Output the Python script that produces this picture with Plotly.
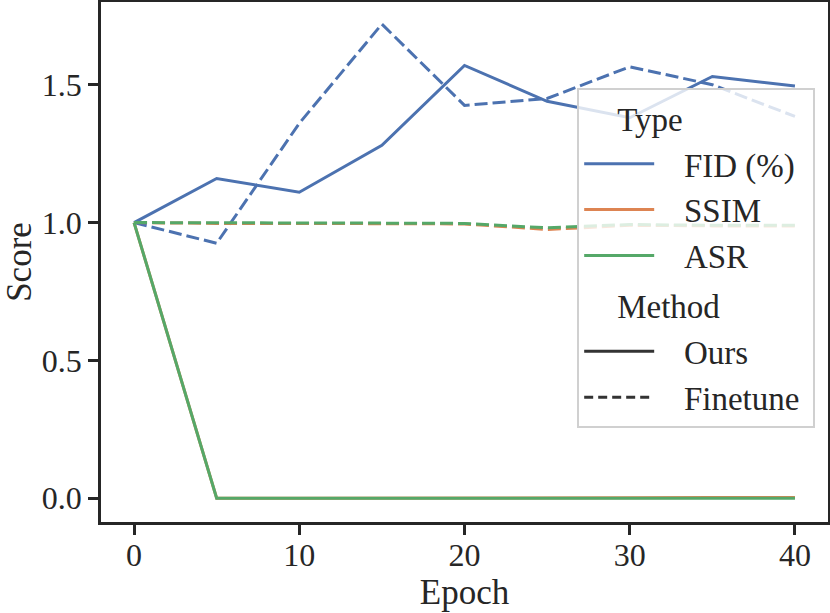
import plotly.graph_objects as go

epochs = [0, 5, 10, 15, 20, 25, 30, 35, 40]

fid_ours = [1.0, 1.16, 1.11, 1.28, 1.57, 1.44, 1.38, 1.53, 1.495]
fid_finetune = [1.0, 0.925, 1.36, 1.72, 1.425, 1.45, 1.565, 1.50, 1.385]
ssim_ours = [1.0, 0.0, 0.0, 0.0, 0.0, 0.0, 0.002, 0.003, 0.003]
ssim_finetune = [1.0, 0.997, 0.997, 0.995, 0.995, 0.975, 0.99, 0.988, 0.988]
asr_ours = [1.0, 0.0, 0.0, 0.0, 0.0, 0.0, 0.0, 0.0, 0.0]
asr_finetune = [1.0, 1.0, 1.0, 0.998, 0.997, 0.981, 0.993, 0.99, 0.99]

types = ["FID (%)", "SSIM", "ASR"]
methods = ["Ours", "Finetune"]

BLUE = "#4c72b0"
ORANGE = "#dd8452"
GREEN = "#55a868"
INK = "#262626"
DASH = "13px,5px"
FONT = "Liberation Serif"
NB = "\u00a0"
PAD = NB * 3

series = [
    (fid_ours, BLUE, "solid"),
    (fid_finetune, BLUE, DASH),
    (ssim_ours, ORANGE, "solid"),
    (ssim_finetune, ORANGE, DASH),
    (asr_ours, GREEN, "solid"),
    (asr_finetune, GREEN, DASH),
]

fig = go.Figure()

for vals, col, dash in series:
    fig.add_trace(go.Scatter(
        x=epochs, y=vals, mode="lines",
        line=dict(color=col, width=3, dash=dash),
        showlegend=False, hoverinfo="skip",
    ))

# legend entries, seaborn style (hue block then style block)
for name, col in zip(types, [BLUE, ORANGE, GREEN]):
    fig.add_trace(go.Scatter(
        x=[None], y=[None], mode="lines", name=PAD + name + NB,
        line=dict(color=col, width=3),
        legendgroup="type", legendgrouptitle_text=PAD + NB + "Type",
    ))
for name, dash in zip(methods, ["solid", "9px,5px"]):
    fig.add_trace(go.Scatter(
        x=[None], y=[None], mode="lines", name=PAD + name + NB,
        line=dict(color="#333333", width=3, dash=dash),
        legendgroup="method", legendgrouptitle_text=PAD + NB + "Method",
    ))

axis_common = dict(
    showline=True, linecolor=INK, linewidth=2.5, mirror=True,
    ticks="outside", ticklen=10, tickwidth=2.5, tickcolor=INK,
    showgrid=False, zeroline=False, automargin=False,
    tickfont=dict(family=FONT, size=32, color=INK),
)

fig.update_xaxes(
    range=[-2, 42], tickvals=[0, 10, 20, 30, 40],
    ticklabelstandoff=-7,
    title=dict(text="Epoch", font=dict(family=FONT, size=35, color=INK), standoff=2),
    **axis_common,
)
fig.update_yaxes(
    range=[-0.086, 1.80], tickvals=[0.0, 0.5, 1.0, 1.5], tickformat=".1f",
    title=dict(text="Score", font=dict(family=FONT, size=35, color=INK), standoff=6),
    **axis_common,
)

fig.update_layout(
    width=830, height=613,
    margin=dict(l=101, r=2, t=2, b=91),
    plot_bgcolor="white", paper_bgcolor="white",
    font=dict(family=FONT, size=32, color=INK),
    legend=dict(
        x=0.655, y=0.835, xanchor="left", yanchor="top",
        bgcolor="rgba(255,255,255,0.8)", bordercolor="#d0d0d0", borderwidth=2,
        font=dict(family=FONT, size=33, color=INK),
        grouptitlefont=dict(family=FONT, size=33, color=INK),
        tracegroupgap=4, itemwidth=70,
    ),
)

# drop the default 8px page margin so the figure sits flush in the window
fig.write_html(
    "out.html",
    config={"displayModeBar": False},
    post_script="document.body.style.margin='0';document.body.style.overflow='hidden';",
)
